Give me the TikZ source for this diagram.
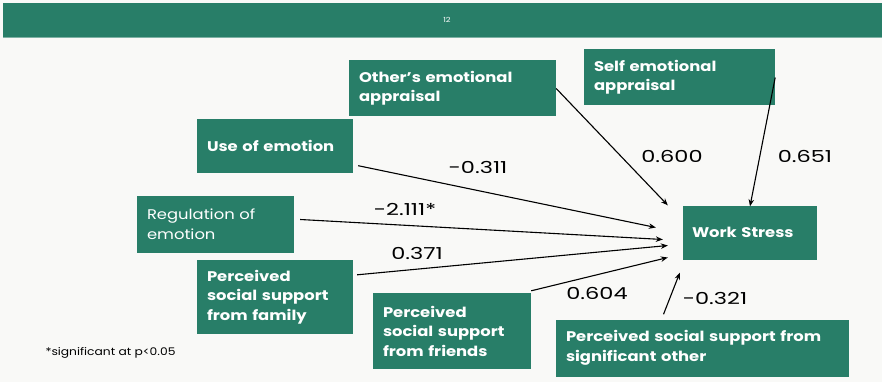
\documentclass[tikz,border=0pt]{standalone}
\usepackage{fontspec}
\setmainfont{Poppins}[FakeStretch=1.17]
\newfontfamily\coeffont{Poppins}[FakeStretch=1.36,Numbers=Monospaced]
\usetikzlibrary{arrows.meta,calc}
\definecolor{teal}{RGB}{40,126,104}
\definecolor{paper}{RGB}{249,249,247}
\begin{document}
\begin{tikzpicture}[x=1pt,y=-1pt,
  box/.style={fill=teal,text=white,inner xsep=10pt,inner ysep=0pt,align=left,
    font=\fontsize{14}{19.5}\selectfont\bfseries},
  plain/.style={box,font=\fontsize{14}{19.5}\selectfont},
  coef/.style={font=\coeffont\fontsize{16.5}{18}\selectfont,text=black},
  arr/.style={draw=black,line width=1.1pt,-{Stealth[length=7pt,width=5.5pt]}}]
% page and header band
\useasboundingbox (0,0) rectangle (882,382);
\fill[paper] (0,0) rectangle (882,382);
\fill[teal] (3,3) rectangle (882,37);
\draw[teal!60!white,line width=0.8pt] (3,37) -- (882,37);
\node[text=white,font=\fontsize{7}{8}\selectfont] (pg) at (447,20) {12};

% factor boxes
\node[box,minimum width=207pt,minimum height=56pt,text width=187pt] (oth) at (452.5,88.5) {Other\symbol{39}s emotional\\appraisal};
\node[box,minimum width=191pt,minimum height=56pt,text width=171pt] (self) at (679.5,77.5) {Self emotional\\appraisal};
\node[box,minimum width=156pt,minimum height=53pt,text width=136pt] (use) at (275,146) {Use of emotion};
\node[plain,minimum width=157pt,minimum height=57pt,text width=137pt] (reg) at (215.5,224) {Regulation of\\emotion};
\node[box,minimum width=156pt,minimum height=74pt,text width=136pt] (fam) at (275,297) {Perceived\\social support\\from family};
\node[box,minimum width=158pt,minimum height=76pt,text width=138pt] (fri) at (452,331) {Perceived\\social support\\from friends};
\node[box,minimum width=293pt,minimum height=57pt,text width=273pt] (sig) at (702.5,348) {Perceived social support from\\significant other};
\node[box,minimum width=134pt,minimum height=54pt,text width=116pt,inner xsep=9pt] (ws) at (750,232.5) {Work Stress};

% arrow heads stop short of the outcome box
\coordinate (tOth) at ($(ws.north west)+(-15,0)$);
\coordinate (tSelf) at ($(ws.north)+(0,1)$);
\coordinate (tUse) at ($(ws.west)+(-27,-5)$);
\coordinate (tReg) at ($(ws.west)+(-20,7)$);
\coordinate (tFam) at ($(ws.west)+(-15,13)$);
\coordinate (tFri) at ($(ws.west)+(-15,25)$);
\coordinate (tSig) at ($(ws.south west)+(-3,13)$);

\draw[arr] (oth.east) -- (tOth);
\draw[arr] (self.east) -- (tSelf);
\draw[arr] ([shift={(5,-7)}]use.south east) -- (tUse);
\draw[arr] ([shift={(6,-4.5)}]reg.east) -- (tReg);
\draw[arr] ([shift={(4,15)}]fam.north east) -- (tFam);
\draw[arr] ([shift={(0,-2)}]fri.north east) -- (tFri);
\draw[arr] ([shift={(-39,-5)}]sig.north) -- (tSig);

% path coefficients
\node[coef] (cUse) at (478,167) {-0.311};
\node[coef] (cOth) at (672,156) {0.600};
\node[coef] (cSelf) at (805,156) {0.651};
\node[coef] (cReg) at (405,209) {-2.111*};
\node[coef] (cFam) at (417,253) {0.371};
\node[coef] (cFri) at (597,293) {0.604};
\node[coef] (cSig) at (715,298) {-0.321};

\node[font=\fontsize{10.5}{12}\selectfont,anchor=west] (note) at (42,353) {*significant at p<0.05};
\end{tikzpicture}
\end{document}
